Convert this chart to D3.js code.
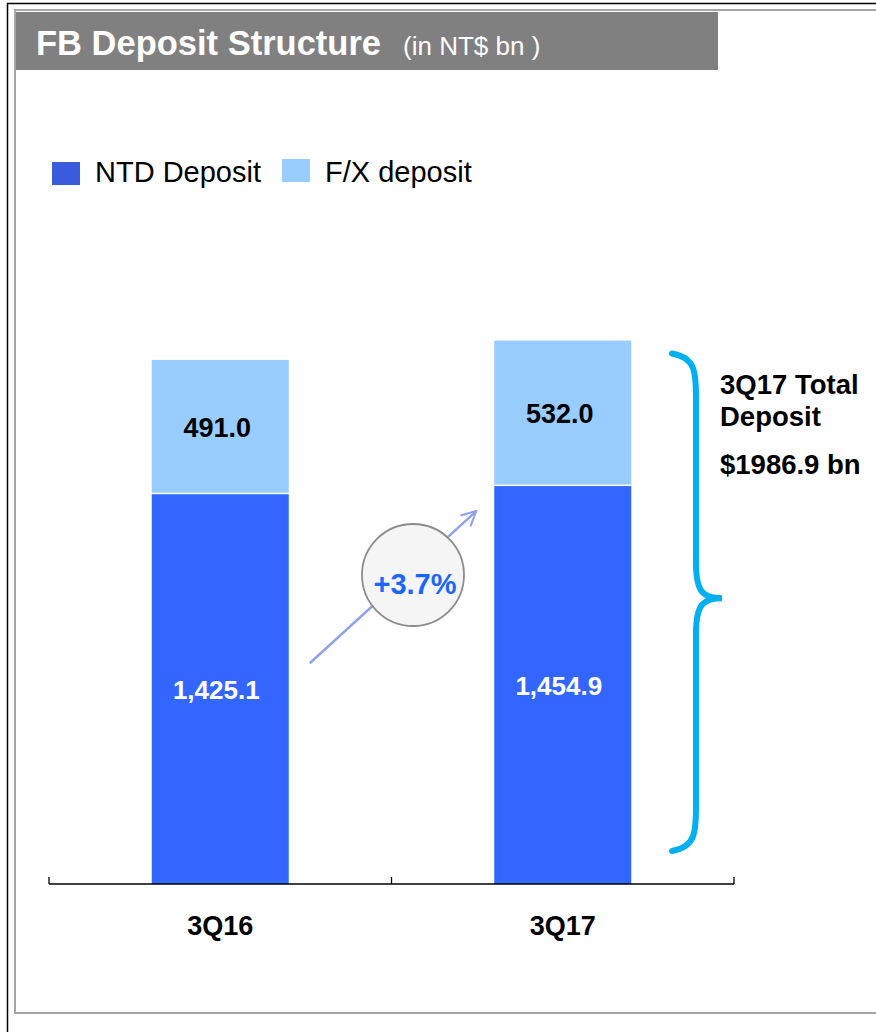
<!DOCTYPE html>
<html>
<head>
<meta charset="utf-8">
<script src="https://cdn.jsdelivr.net/npm/d3@7"></script>
<style>
  html, body { margin: 0; padding: 0; background: #fff; }
  svg { display: block; font-family: "Liberation Sans", Arial, sans-serif; }
</style>
</head>
<body>
<svg id="chart" width="876" height="1032"></svg>
<script>
// data
const quarters = ["3Q16", "3Q17"];
const ntdDeposit = [1425.1, 1454.9];
const fxDeposit = [491.0, 532.0];
const seriesNames = ["NTD Deposit", "F/X deposit"];
const growthLabel = "+3.7%";
const totalLines = ["3Q17 Total", "Deposit", "$1986.9 bn"];

const svg = d3.select("#chart");

// frames
svg.append("rect").attr("x", 7.5).attr("y", 3.5).attr("width", 900).attr("height", 1040)
  .attr("fill", "none").attr("stroke", "#000").attr("stroke-width", 1.5);
svg.append("rect").attr("x", 15).attr("y", 10).attr("width", 900).attr("height", 1003)
  .attr("fill", "none").attr("stroke", "#a6a6a6").attr("stroke-width", 2);

// title bar
svg.append("rect").attr("x", 16).attr("y", 12).attr("width", 702).attr("height", 58).attr("fill", "#808080");
let title = svg.append("text").attr("x", 36).attr("y", 55).attr("fill", "#fff");
title.append("tspan").attr("font-size", 34.5).attr("font-weight", "bold").text("FB Deposit Structure");
title.append("tspan").attr("font-size", 26).attr("dx", 22).text("(in NT$ bn )");

// legend
const colors = ["#3366ff", "#99ccff"];
const legendSwatch = ["#3a5cdc", "#99ccff"];
const legendX = [52, 282];
seriesNames.forEach((n, i) => {
  svg.append("rect").attr("x", legendX[i]).attr("y", 162 - i * 3).attr("width", 28).attr("height", 23)
    .attr("fill", legendSwatch[i]);
  svg.append("text").attr("x", legendX[i] + 43).attr("y", 182).attr("font-size", 29).attr("fill", "#000").text(n);
});

// scales
const x = d3.scaleBand().domain(quarters).range([49, 734]).paddingInner(0.6).paddingOuter(0.3);
const y = d3.scaleLinear().domain([0, 2000]).range([884, 337]);

const stacked = quarters.map((q, i) => ({ q, ntd: ntdDeposit[i], fx: fxDeposit[i] }));

const g = svg.append("g");
stacked.forEach(d => {
  g.append("rect").attr("x", x(d.q)).attr("width", x.bandwidth())
    .attr("y", y(d.ntd)).attr("height", y(0) - y(d.ntd)).attr("fill", colors[0]);
  g.append("rect").attr("x", x(d.q)).attr("width", x.bandwidth())
    .attr("y", y(d.ntd + d.fx)).attr("height", y(d.ntd) - y(d.ntd + d.fx) - 1.5).attr("fill", colors[1]);
  const cx = x(d.q) + x.bandwidth() / 2;
  g.append("text").attr("x", cx - 4).attr("y", (y(0) + y(d.ntd)) / 2 + 10).attr("text-anchor", "middle")
    .attr("font-size", 26).attr("font-weight", "bold").attr("fill", "#fff").text(d3.format(",.1f")(d.ntd));
  g.append("text").attr("x", cx - 3).attr("y", (y(d.ntd) + y(d.ntd + d.fx)) / 2 + 10).attr("text-anchor", "middle")
    .attr("font-size", 27).attr("font-weight", "bold").attr("fill", "#000").text(d3.format(".1f")(d.fx));
});

// axis
const axis = svg.append("g").attr("transform", "translate(0," + y(0) + ")");
axis.append("line").attr("x1", 49).attr("x2", 734).attr("stroke", "#000").attr("stroke-width", 1.3);
[49, 391.5, 734].forEach(t => axis.append("line").attr("x1", t).attr("x2", t).attr("y1", 0).attr("y2", -7)
  .attr("stroke", "#000").attr("stroke-width", 1.3));
quarters.forEach(q => axis.append("text").attr("x", x(q) + x.bandwidth() / 2).attr("y", 51)
  .attr("text-anchor", "middle").attr("font-size", 27).attr("font-weight", "bold").text(q));

// growth arrow
svg.append("defs").append("marker").attr("id", "arr").attr("viewBox", "0 0 12 12")
  .attr("refX", 11).attr("refY", 6).attr("markerWidth", 7).attr("markerHeight", 7)
  .attr("markerUnits", "strokeWidth").attr("orient", "auto")
  .append("path").attr("d", "M1,1 L11,6 L1,11").attr("fill", "none").attr("stroke", "#8ea3ea").attr("stroke-width", 1.4);
const x0 = x(quarters[0]) + x.bandwidth() + 21, x1 = x(quarters[1]) - 18;
svg.append("line").attr("x1", x0).attr("y1", y(ntdDeposit[0]) + 169).attr("x2", x1).attr("y2", y(ntdDeposit[1]) + 25)
  .attr("stroke", "#8ea3ea").attr("stroke-width", 2.5).attr("marker-end", "url(#arr)");
svg.append("circle").attr("cx", 413).attr("cy", 575).attr("r", 51)
  .attr("fill", "#f5f5f5").attr("stroke", "#8c8c8c").attr("stroke-width", 1.8);
svg.append("text").attr("x", 415).attr("y", 594).attr("text-anchor", "middle").attr("font-size", 29)
  .attr("font-weight", "bold").attr("fill", "#1a66ff").text(growthLabel);

// brace for 3Q17 total
const bTop = y(ntdDeposit[1] + fxDeposit[1]) + 13, bBot = y(0) - 33, bMid = (bTop + bBot) / 2 - 4;
const bx = 672, bv = 696, bp = 722;
const brace = d3.path();
brace.moveTo(bx, bTop);
brace.bezierCurveTo(bv, bTop + 4, bv, bTop + 20, bv, bTop + 45);
brace.lineTo(bv, bMid - 35);
brace.bezierCurveTo(bv, bMid - 5, bv + 8, bMid, bp, bMid);
brace.bezierCurveTo(bv + 8, bMid, bv, bMid + 5, bv, bMid + 35);
brace.lineTo(bv, bBot - 45);
brace.bezierCurveTo(bv, bBot - 20, bv, bBot - 4, bx, bBot);
svg.append("path").attr("d", brace.toString()).attr("fill", "none").attr("stroke", "#00b0f0")
  .attr("stroke-width", 6).attr("stroke-linecap", "round");

const tl = svg.append("text").attr("font-size", 27.5).attr("font-weight", "bold").attr("fill", "#000");
[394, 426, 474].forEach((yy, i) => tl.append("tspan").attr("x", 720).attr("y", yy).text(totalLines[i]));
</script>
</body>
</html>
